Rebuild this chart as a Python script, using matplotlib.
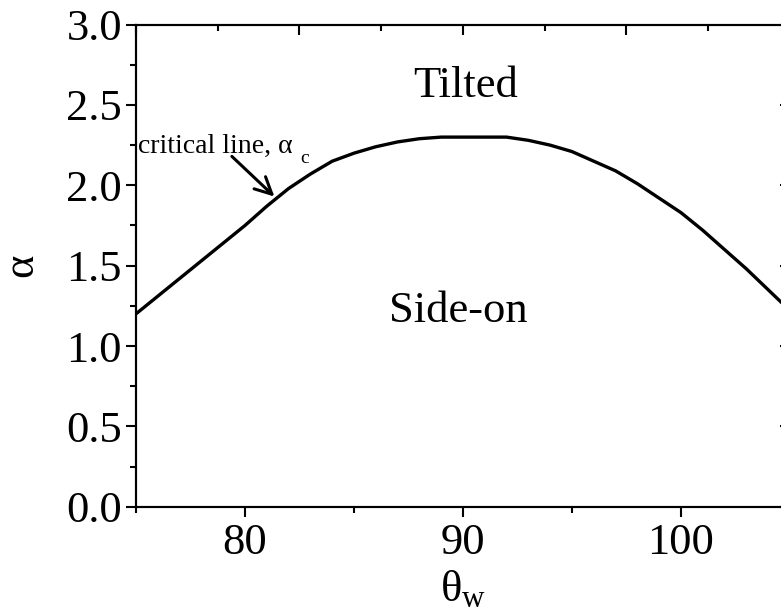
import matplotlib
matplotlib.use('Agg')
import matplotlib.pyplot as plt
from matplotlib.ticker import MultipleLocator

# critical line alpha_c(theta_w)
theta_w = [75, 76, 77, 78, 79, 80, 81, 82, 83, 84, 85, 86, 87, 88, 89, 90,
           91, 92, 93, 94, 95, 96, 97, 98, 99, 100, 101, 102, 103, 104, 105]
alpha_c = [1.20, 1.31, 1.42, 1.53, 1.64, 1.75, 1.87, 1.98, 2.07, 2.15, 2.20, 2.24, 2.27, 2.29, 2.30, 2.30,
           2.30, 2.30, 2.28, 2.25, 2.21, 2.15, 2.09, 2.01, 1.92, 1.83, 1.72, 1.60, 1.48, 1.35, 1.22]

x_ticks = [80, 90, 100]
y_ticks = [0.0, 0.5, 1.0, 1.5, 2.0, 2.5, 3.0]

plt.rcParams['font.family'] = ['Liberation Serif', 'DejaVu Serif']
plt.rcParams['mathtext.fontset'] = 'custom'
plt.rcParams['mathtext.rm'] = 'Liberation Serif'
plt.rcParams['mathtext.it'] = 'Liberation Serif:italic'

fs = 32
fig = plt.figure(figsize=(7.81, 6.11), dpi=100)
# right spine sits just past the figure edge
ax = fig.add_axes([0.1741, 0.1707, 0.8374, 0.789])

ax.plot(theta_w, alpha_c, color='black', lw=2.4, solid_capstyle='butt', solid_joinstyle='round')

ax.set_xlim(75, 105)
ax.set_ylim(0, 3)
ax.set_xticks(x_ticks)
ax.set_yticks(y_ticks)
ax.set_yticklabels([f'{v:.1f}' for v in y_ticks])
ax.xaxis.set_minor_locator(MultipleLocator(5))
ax.yaxis.set_minor_locator(MultipleLocator(0.25))
ax.tick_params(which='both', direction='out', width=1.5, labelsize=fs)
ax.tick_params(axis='y', pad=3)
ax.tick_params(axis='x', pad=5)
ax.tick_params(which='major', length=7)
ax.tick_params(which='minor', length=4.5)
for s in ax.spines.values():
    s.set_linewidth(1.5)

# inward ticks on the right side
ax_r = ax.secondary_yaxis('right')
ax_r.set_yticks(y_ticks)
ax_r.yaxis.set_minor_locator(MultipleLocator(0.25))
ax_r.tick_params(which='both', direction='in', width=1.5, labelright=False)
ax_r.tick_params(which='major', length=7)
ax_r.tick_params(which='minor', length=4.5)

# top axis has its own tick spacing, no labels
ax_t = ax.twiny()
ax_t.set_xlim(0, 4)
ax_t.xaxis.set_major_locator(MultipleLocator(1))
ax_t.xaxis.set_minor_locator(MultipleLocator(0.5))
ax_t.tick_params(which='both', direction='in', width=1.5, labeltop=False)
ax_t.tick_params(which='major', length=7)
ax_t.tick_params(which='minor', length=4.5)
for s in ax_t.spines.values():
    s.set_linewidth(1.5)

ax.set_xlabel(r'$\mathrm{\theta_w}$', fontsize=fs, labelpad=4)
ax.set_ylabel('α', fontsize=fs, labelpad=18)

ax.text(90.1, 2.62, 'Tilted', fontsize=fs, ha='center', va='center')
ax.text(89.8, 1.22, 'Side-on', fontsize=fs, ha='center', va='center')

# label for the critical line, subscript placed by hand (sits low)
ax.text(75.1, 2.20, 'critical line, α', fontsize=20, ha='left', va='baseline')
ax.text(82.55, 2.14, 'c', fontsize=14, ha='left', va='baseline')
ax.annotate('', xy=(81.35, 1.93), xytext=(79.4, 2.18),
            arrowprops=dict(arrowstyle='->', lw=2.2, color='black', mutation_scale=30,
                            shrinkA=0, shrinkB=0))

fig.savefig('out.png', dpi=100)
